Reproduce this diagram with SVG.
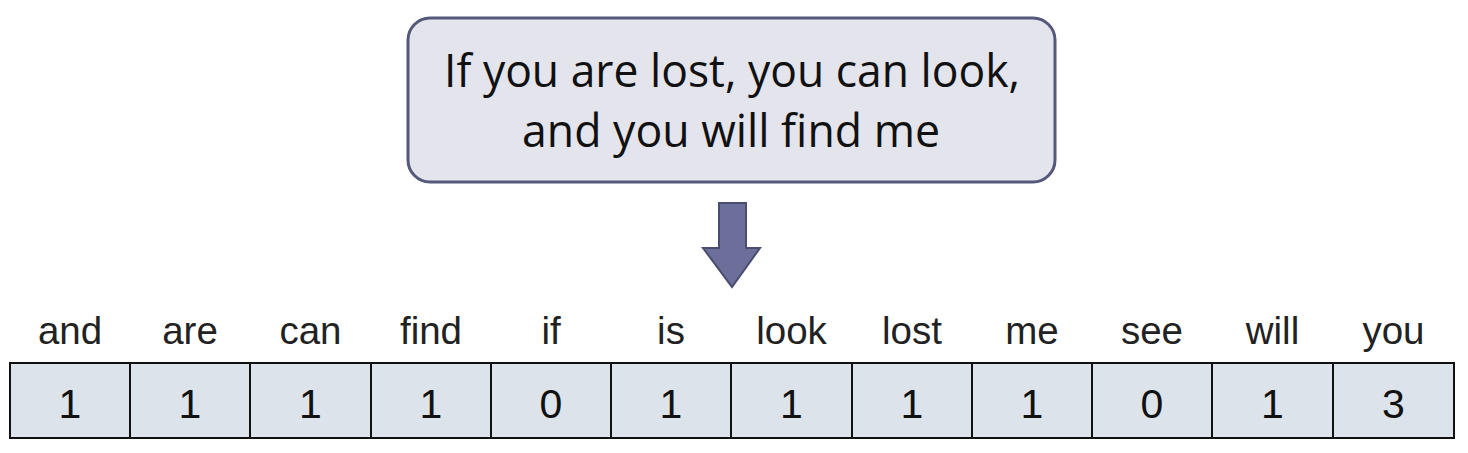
<svg xmlns="http://www.w3.org/2000/svg" width="1468" height="453" viewBox="0 0 1468 453">
<style>
.cell{fill:#dde3ea;stroke:#111;stroke-width:2}
.lbl{font-family:"Liberation Sans",Arial,sans-serif;font-size:38.5px;fill:#222;text-anchor:middle}
.num{font-family:"Liberation Sans",Arial,sans-serif;font-size:41px;fill:#111;text-anchor:middle}
.sent{font-family:"Open Sans",sans-serif;font-size:45px;fill:#111;text-anchor:middle}
</style>
<rect width="1468" height="453" fill="#fff"/>
<g id="sentence">
<rect x="408" y="18" width="647" height="164" rx="22" fill="#e3e4ec" stroke="#55587a" stroke-width="3"/>
<text class="sent" x="732" y="87" textLength="576" lengthAdjust="spacingAndGlyphs">If you are lost, you can look,</text>
<text class="sent" x="731" y="147" textLength="418" lengthAdjust="spacingAndGlyphs">and you will find me</text>
</g>
<g id="connectors">
<path d="M719,203 H746 V248 H760 L732,287 L703,248 H719 Z" fill="#6b6f9a" stroke="#4a4d70" stroke-width="2"/>
</g>
<g id="vector">
<g id="c0"><rect class="cell" x="10" y="363" width="120" height="75"/><text class="lbl" x="70" y="344">and</text><text class="num" x="70" y="418">1</text></g>
<g id="c1"><rect class="cell" x="130" y="363" width="120" height="75"/><text class="lbl" x="190" y="344">are</text><text class="num" x="190" y="418">1</text></g>
<g id="c2"><rect class="cell" x="250" y="363" width="121" height="75"/><text class="lbl" x="310.5" y="344">can</text><text class="num" x="310.5" y="418">1</text></g>
<g id="c3"><rect class="cell" x="371" y="363" width="120" height="75"/><text class="lbl" x="431" y="344">find</text><text class="num" x="431" y="418">1</text></g>
<g id="c4"><rect class="cell" x="491" y="363" width="120" height="75"/><text class="lbl" x="551" y="344">if</text><text class="num" x="551" y="418">0</text></g>
<g id="c5"><rect class="cell" x="611" y="363" width="120" height="75"/><text class="lbl" x="671" y="344">is</text><text class="num" x="671" y="418">1</text></g>
<g id="c6"><rect class="cell" x="731" y="363" width="121" height="75"/><text class="lbl" x="791.5" y="344">look</text><text class="num" x="791.5" y="418">1</text></g>
<g id="c7"><rect class="cell" x="852" y="363" width="120" height="75"/><text class="lbl" x="912" y="344">lost</text><text class="num" x="912" y="418">1</text></g>
<g id="c8"><rect class="cell" x="972" y="363" width="120" height="75"/><text class="lbl" x="1032" y="344">me</text><text class="num" x="1032" y="418">1</text></g>
<g id="c9"><rect class="cell" x="1092" y="363" width="120" height="75"/><text class="lbl" x="1152" y="344">see</text><text class="num" x="1152" y="418">0</text></g>
<g id="c10"><rect class="cell" x="1212" y="363" width="121" height="75"/><text class="lbl" x="1272.5" y="344">will</text><text class="num" x="1272.5" y="418">1</text></g>
<g id="c11"><rect class="cell" x="1333" y="363" width="121" height="75"/><text class="lbl" x="1393.5" y="344">you</text><text class="num" x="1393.5" y="418">3</text></g>
</g>
</svg>
